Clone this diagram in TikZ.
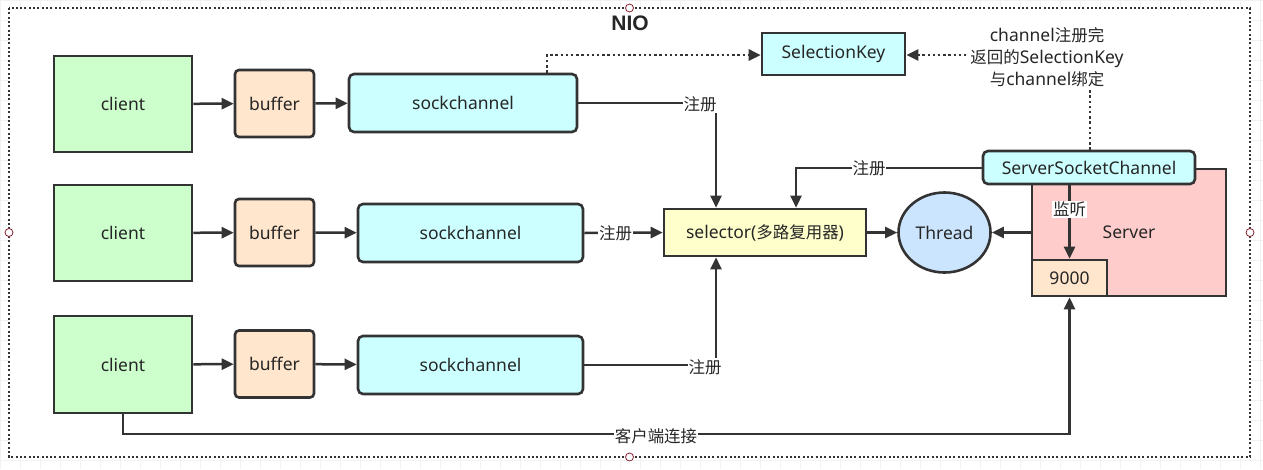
\documentclass[tikz,border=0pt]{standalone}
\usepackage{fontspec}
\setmainfont{Noto Sans}
\newfontfamily\cjk{Noto Sans CJK SC}[Scale=0.94]
\newfontfamily\niofont{Liberation Sans}
\usetikzlibrary{arrows.meta,calc,shapes.geometric}
\definecolor{edge}{HTML}{333333}
\definecolor{cgreen}{HTML}{CCFFCC}
\definecolor{corange}{HTML}{FFE6CC}
\definecolor{ccyan}{HTML}{CCFFFF}
\definecolor{cyellow}{HTML}{FFFFCC}
\definecolor{cblue}{HTML}{CCE5FF}
\definecolor{cpink}{HTML}{FFCCCC}
\definecolor{handle}{HTML}{8B2232}
\tikzset{
  base/.style={draw=edge, line width=2.6pt, inner sep=0pt, font=\fontsize{17.5}{21}\selectfont, text=black!85},
  clientbox/.style={base, fill=cgreen, minimum width=138pt, minimum height=96pt},
  bufbox/.style={base, fill=corange, rounded corners=4pt, minimum width=79pt, minimum height=67pt},
  sockbox/.style={base, fill=ccyan, rounded corners=5pt, minimum height=58pt},
  plainbox/.style={base},
  arr/.style={draw=edge, line width=2.5pt, -{Triangle[length=12pt,width=11pt]}},
  dotarr/.style={draw=edge, line width=2.6pt, dash pattern=on 2.4pt off 2.8pt, -{Triangle[length=12pt,width=11pt]}},
  lbl/.style={fill=white, inner sep=1pt, font=\cjk\fontsize{17.5}{21}\selectfont, text=black!85},
  hnd/.style={draw=handle, fill=white, line width=0.8pt, circle, minimum size=8pt, inner sep=0pt},
}
\begin{document}
\begin{tikzpicture}[x=1pt,y=-1pt]
\useasboundingbox (0,0) rectangle (1263,469);
% background grid
\draw[gray!10, line width=0.6pt, step=20pt] (0,0) grid (1263,469);
% frame
\path[fill=white] (9,8) rectangle (1250,457);
\draw[edge, line width=2pt, dash pattern=on 2pt off 2.3pt] (9,8) rectangle (1250,457);
\node[font=\niofont\bfseries\fontsize{21}{24}\selectfont, text=black!85] (nio) at (630,23) {NIO};

% row nodes
\node[clientbox] (c1) at (123,104) {client};
\node[bufbox] (b1) at (274.5,103.5) {buffer};
\node[sockbox, minimum width=228pt] (s1) at (463,103) {sockchannel};
\node[clientbox] (c2) at (123,233) {client};
\node[bufbox] (b2) at (274.5,232.5) {buffer};
\node[sockbox, minimum width=225pt] (s2) at (470.5,233) {sockchannel};
\node[clientbox, minimum height=97pt] (c3) at (123,364.5) {client};
\node[bufbox] (b3) at (274.5,364) {buffer};
\node[sockbox, minimum width=225pt] (s3) at (470.5,365) {sockchannel};

\node[plainbox, fill=ccyan, minimum width=143pt, minimum height=42pt] (sk) at (833.5,54) {SelectionKey};
\node[plainbox, fill=cyellow, minimum width=202pt, minimum height=47pt] (sel) at (765,232.5) {selector({\cjk 多路复用器})};
\node[base, fill=cblue, ellipse, minimum width=92pt, minimum height=80pt] (th) at (944.5,232.5) {Thread};
\node[plainbox, fill=cpink, minimum width=194pt, minimum height=127pt] (srv) at (1129,232.5) {Server};
\node[plainbox, fill=ccyan, rounded corners=5pt, minimum width=212pt, minimum height=33pt] (ssc) at (1089,167.5) {ServerSocketChannel};
\node[plainbox, fill=corange, minimum width=75pt, minimum height=36pt] (p9) at (1069.5,278) {9000};

% row arrows
\foreach \i in {1,2,3}{
  \draw[arr] (c\i) -- (b\i);
  \draw[arr] (b\i) -- (s\i);
}
% register edges
\coordinate (j1) at (716,103);
\draw[arr] (s1.east) -- (j1) -- (j1 |- sel.north);
\node[lbl] (l1) at (700,104) {注册};
\draw[arr] (s2.east) -- node[lbl, pos=0.4] (l2) {注册} (sel.west);
\coordinate (j3) at (716,365);
\draw[arr] (s3.east) -- (j3) -- (j3 |- sel.south);
\node[lbl] (l3) at (705,367) {注册};
\coordinate (j4) at (796,168);
\draw[arr] (ssc.west |- j4) -- (j4) -- (j4 |- sel.north);
\node[lbl] (l4) at (869,168) {注册};
% thread
\draw[arr] (sel.east) -- (th.west);
\draw[arr] (srv.west) -- (th.east);
% listen
\draw[arr] (ssc.south -| p9.north) -- node[lbl, pos=0.33] (l5) {监听} (p9.north);
% client connect
\coordinate (j6) at (123,434);
\coordinate (j7) at (1069.5,434);
\draw[arr] (c3.south) -- (j6) -- (j7) -- (p9.south);
\node[lbl] (l6) at (656,436) {客户端连接};
% dotted selection key edges
\coordinate (d1) at (547,55);
\draw[dotarr] (d1 |- s1.north) -- (d1) -- (sk.west |- d1);
\coordinate (d2) at (1090,55);
\draw[dotarr] (d2 |- ssc.north) -- (d2) -- (sk.east |- d2);
\node[lbl, align=center, font=\fontsize{17.5}{22}\selectfont, inner sep=2pt] (l7) at (1047,57) {channel{\cjk 注册完}\\{\cjk 返回的}SelectionKey\\{\cjk 与}channel{\cjk 绑定}};

% handles
\node[hnd] (h1) at (629.5,8) {};
\node[hnd] (h2) at (9,232.5) {};
\node[hnd] (h3) at (1250,232.5) {};
\node[hnd] (h4) at (629.5,457) {};
\end{tikzpicture}
\end{document}
